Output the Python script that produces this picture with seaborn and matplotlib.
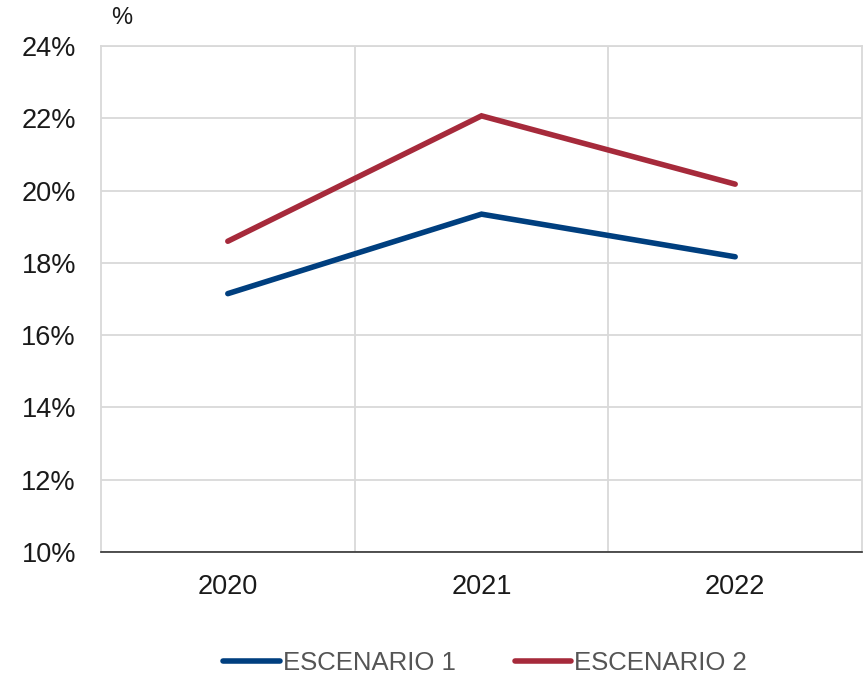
import matplotlib
matplotlib.use("Agg")
import matplotlib.pyplot as plt
from matplotlib.ticker import FixedLocator
import pandas as pd
import seaborn as sns

years = ["2020", "2021", "2022"]
escenario_1 = [17.15, 19.35, 18.17]
escenario_2 = [18.6, 22.07, 20.18]
series_names = ["ESCENARIO 1", "ESCENARIO 2"]
y_ticks = [10, 12, 14, 16, 18, 20, 22, 24]

df = pd.DataFrame({
    "Año": years * 2,
    "Valor": escenario_1 + escenario_2,
    "Serie": [series_names[0]] * 3 + [series_names[1]] * 3,
})

sns.set_theme(style="white")
plt.rcParams["font.family"] = ["Liberation Sans", "DejaVu Sans"]

fig = plt.figure(figsize=(8.66, 6.78), dpi=100)
ax = fig.add_axes([0.1166, 0.1858, 0.8788, 0.7462])

palette = {series_names[0]: "#003f7f", series_names[1]: "#a62a3b"}
sns.lineplot(data=df, x="Año", y="Valor", hue="Serie", palette=palette,
             linewidth=4.0, ax=ax, legend=True, sort=False)
for ln in ax.lines:
    ln.set_solid_capstyle("round")
    ln.set_solid_joinstyle("miter")

ax.set_xlim(-0.5, 2.5)
ax.set_ylim(10, 24)
ax.set_yticks(y_ticks)
ax.set_yticklabels([f"{v}%" for v in y_ticks])
ax.set_xticks(range(len(years)))
ax.set_xticklabels(years)
ax.xaxis.set_minor_locator(FixedLocator([0.5, 1.5]))

grid_c = "#d9d9d9"
ax.grid(False)
ax.yaxis.grid(True, which="major", color=grid_c, linewidth=1.3)
ax.xaxis.grid(True, which="minor", color=grid_c, linewidth=1.3)
ax.set_axisbelow(True)

for s in ["left", "top", "right"]:
    ax.spines[s].set_color(grid_c)
    ax.spines[s].set_linewidth(1.3)
ax.spines["bottom"].set_color("#333333")
ax.spines["bottom"].set_linewidth(1.2)

ax.tick_params(axis="both", which="both", length=0, labelsize=19.5,
               labelcolor="#1a1a1a")
ax.tick_params(axis="x", pad=16)
ax.tick_params(axis="y", pad=18)
ax.set_xlabel("")
ax.set_ylabel("")

fig.text(0.141, 0.973, "%", fontsize=17, color="#1a1a1a", ha="center", va="center")

handles, labels = ax.get_legend_handles_labels()
ax.get_legend().remove()
leg = fig.legend(handles, labels, loc="center", bbox_to_anchor=(0.56, 0.022),
                 ncol=2, frameon=False, fontsize=18.5, handlelength=2.2,
                 handletextpad=0.12, columnspacing=2.3)
for t in leg.get_texts():
    t.set_color("#555555")
for h in leg.get_lines():
    h.set_linewidth(4.0)
    h.set_solid_capstyle("round")

fig.savefig("out.png", dpi=100)
